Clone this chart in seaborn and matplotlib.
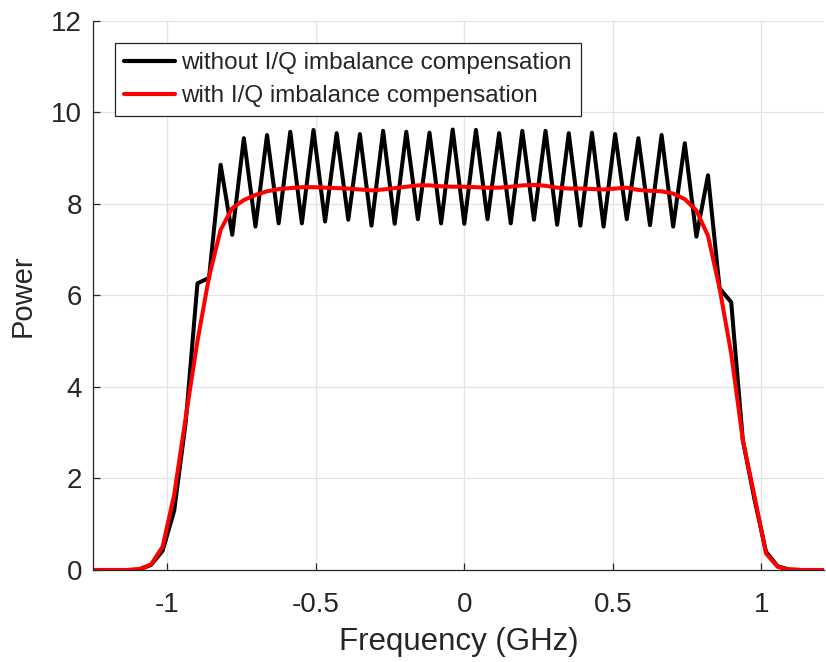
import matplotlib
matplotlib.use("Agg")
import matplotlib.pyplot as plt
import seaborn as sns
import pandas as pd

freq_ghz = [-1.25, -1.2109, -1.1719, -1.1328, -1.0938, -1.0547, -1.0156, -0.9766,
            -0.9375, -0.8984, -0.8594, -0.8203, -0.7813, -0.7422, -0.7031, -0.6641,
            -0.625, -0.5859, -0.5469, -0.5078, -0.4688, -0.4297, -0.3906, -0.3516,
            -0.3125, -0.2734, -0.2344, -0.1953, -0.1563, -0.1172, -0.0781, -0.0391,
            0.0, 0.0391, 0.0781, 0.1172, 0.1563, 0.1953, 0.2344, 0.2734,
            0.3125, 0.3516, 0.3906, 0.4297, 0.4688, 0.5078, 0.5469, 0.5859,
            0.625, 0.6641, 0.7031, 0.7422, 0.7813, 0.8203, 0.8594, 0.8984,
            0.9375, 0.9766, 1.0156, 1.0547, 1.0938, 1.1328, 1.1719, 1.2109]

power_without = [0, 0, 0, 0, 0.01, 0.11, 0.42, 1.30,
                 3.25, 6.26, 6.38, 8.85, 7.32, 9.43, 7.50, 9.50,
                 7.57, 9.57, 7.57, 9.61, 7.61, 9.54, 7.65, 9.52,
                 7.52, 9.59, 7.56, 9.57, 7.66, 9.55, 7.57, 9.62,
                 7.56, 9.61, 7.66, 9.54, 7.57, 9.59, 7.65, 9.59,
                 7.54, 9.54, 7.52, 9.55, 7.50, 9.52, 7.66, 9.43,
                 7.53, 9.50, 7.50, 9.32, 7.28, 8.62, 6.15, 5.85,
                 2.84, 1.55, 0.40, 0.08, 0.01, 0, 0, 0]

power_with = [0, 0, 0, 0, 0.02, 0.12, 0.51, 1.65,
              3.35, 5.00, 6.40, 7.43, 7.90, 8.08, 8.19, 8.27,
              8.32, 8.34, 8.36, 8.36, 8.35, 8.34, 8.33, 8.31,
              8.29, 8.31, 8.34, 8.37, 8.40, 8.40, 8.38, 8.37,
              8.37, 8.36, 8.35, 8.35, 8.37, 8.40, 8.41, 8.39,
              8.35, 8.33, 8.33, 8.32, 8.31, 8.33, 8.35, 8.30,
              8.28, 8.27, 8.22, 8.10, 7.85, 7.30, 6.15, 4.73,
              2.84, 1.62, 0.36, 0.07, 0.01, 0, 0, 0]

series_labels = ["without I/Q imbalance compensation", "with I/Q imbalance compensation"]
x_ticks = [-1, -0.5, 0, 0.5, 1]
x_tick_labels = ["-1", "-0.5", "0", "0.5", "1"]
y_ticks = [0, 2, 4, 6, 8, 10, 12]

sns.set_style("white")
plt.rcParams["font.family"] = ["Liberation Sans", "DejaVu Sans"]

df = pd.concat([
    pd.DataFrame({"f": freq_ghz, "p": power_without, "s": series_labels[0]}),
    pd.DataFrame({"f": freq_ghz, "p": power_with, "s": series_labels[1]}),
])

fig = plt.figure(figsize=(8.26, 6.62), dpi=100)
ax = fig.add_axes([0.1126, 0.139, 0.885, 0.830])

sns.lineplot(data=df, x="f", y="p", hue="s", palette=["#000000", "#ff0000"],
             sort=False, linewidth=2.9, ax=ax, estimator=None)

ax.set_xlim(-1.25, 1.2109)
ax.set_ylim(0, 12)
ax.set_xticks(x_ticks)
ax.set_xticklabels(x_tick_labels)
ax.set_yticks(y_ticks)
ax.grid(True, color="#e3e3e3", linewidth=0.9)
ax.set_axisbelow(True)
for s in ["top", "right"]:
    ax.spines[s].set_visible(False)
for s in ["left", "bottom"]:
    ax.spines[s].set_color("#262626")
    ax.spines[s].set_linewidth(0.9)
ax.tick_params(direction="in", length=5, width=0.9, colors="#262626",
               labelsize=20, left=True, bottom=True)
ax.tick_params(axis="x", pad=16)
ax.tick_params(axis="y", pad=8)
ax.set_xlabel("Frequency (GHz)", fontsize=22.5, color="#262626", labelpad=6)
ax.set_ylabel("Power", fontsize=21, color="#262626", labelpad=10)

leg = ax.legend(loc="upper left", bbox_to_anchor=(0.030, 0.959), borderaxespad=0,
                fontsize=17.5, frameon=True, fancybox=False, framealpha=1,
                edgecolor="#262626", handlelength=2.1, handletextpad=0.25,
                borderpad=0.38, labelspacing=0.45, title=None)
leg.get_frame().set_linewidth(0.9)
for line in leg.get_lines():
    line.set_linewidth(3.0)

fig.savefig("out.png", dpi=100)
